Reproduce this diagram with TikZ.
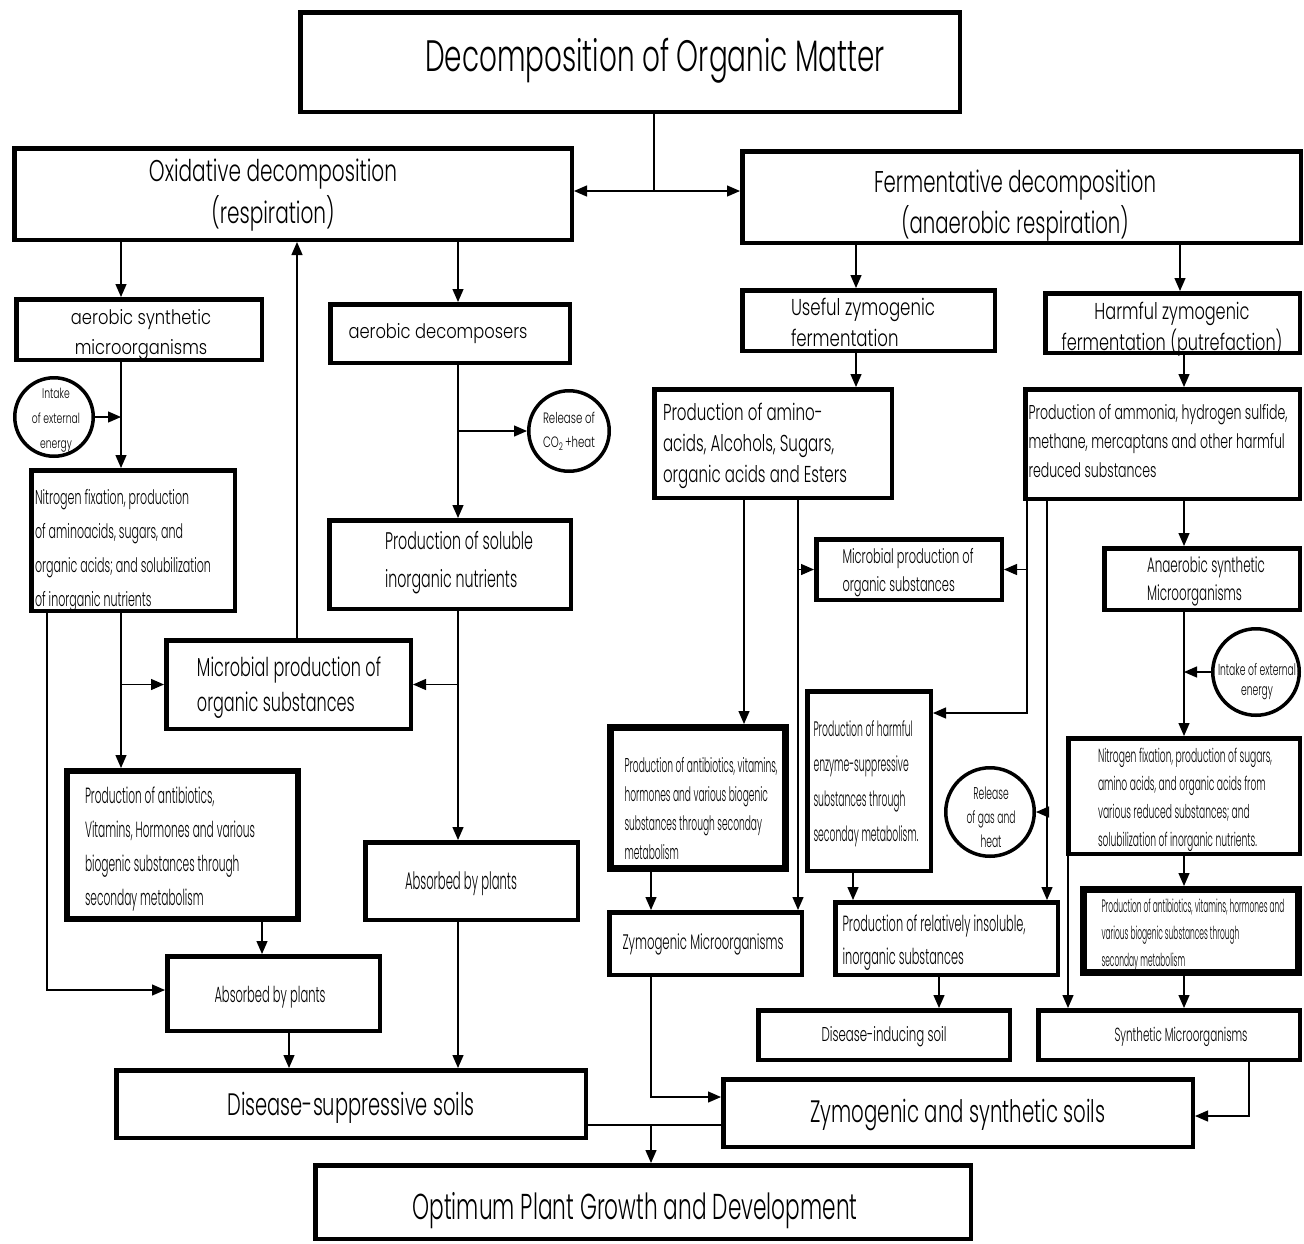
\documentclass[tikz,border=0pt]{standalone}
\usepackage{fontspec}
\setmainfont{Poppins Light}
\usepackage{graphicx}
\usetikzlibrary{arrows.meta}
\newcommand{\mytx}[5]{\fontsize{#1}{#2}\selectfont\resizebox{#3pt}{\height}{\begin{tabular}{@{}#4@{}}#5\end{tabular}}}
\begin{document}
\begin{tikzpicture}[x=1pt,y=-1pt,
  bx/.style={draw, line width=4.5pt, inner sep=0pt},
  bxt/.style={draw, line width=7pt, inner sep=0pt},
  cr/.style={draw, circle, line width=3.5pt, inner sep=0pt},
  txt/.style={inner sep=0pt},
  arr/.style={-{Triangle[length=13pt,width=11pt]}, line width=1.3pt},
  ln/.style={line width=1.3pt},
  arr2/.style={{Triangle[length=13pt,width=11pt]}-{Triangle[length=13pt,width=11pt]}, line width=1.3pt}]
\useasboundingbox (0,0) rectangle (1304,1243);
\fill[white] (0,0) rectangle (1304,1243);
% ---------- boxes ----------
\node[bx, minimum width=659.5, minimum height=99.5] (b-title) at (630,62) {};
\node[bx, minimum width=557.5, minimum height=91.5] (b-ox) at (293,194) {};
\node[bx, minimum width=558.5, minimum height=91.5] (b-fe) at (1021.5,197) {};
\node[bx, minimum width=245.5, minimum height=60.5] (b-aes) at (139,329.5) {};
\node[bx, minimum width=239.5, minimum height=58.5] (b-aed) at (450,333.5) {};
\node[bx, minimum width=203.5, minimum height=140.5] (b-nfl) at (133,540.5) {};
\node[bx, minimum width=241.5, minimum height=88.5] (b-sol) at (450,564.5) {};
\node[bx, minimum width=244.5, minimum height=88.5] (b-mpl) at (288.5,684.5) {};
\node[bx, line width=6pt, minimum width=231, minimum height=148] (b-abl) at (182.5,845) {};
\node[bx, minimum width=212.5, minimum height=74.5] (b-apl) at (273.5,993.5) {};
\node[bx, minimum width=212.5, minimum height=77.5] (b-apm) at (471.5,881) {};
\node[bx, minimum width=469.5, minimum height=67.5] (b-dss) at (351,1104) {};
\node[bx, minimum width=655.5, minimum height=73.5] (b-opt) at (643,1202) {};
\node[bx, minimum width=469.5, minimum height=67.5] (b-zss) at (958,1113) {};
\node[bx, minimum width=252.5, minimum height=60.5] (b-use) at (868.5,320.5) {};
\node[bx, minimum width=254.5, minimum height=59.5] (b-har) at (1172.5,323) {};
\node[bx, minimum width=237.5, minimum height=108.5] (b-ami) at (773,443.5) {};
\node[bx, minimum width=274.5, minimum height=109.5] (b-amm) at (1162.5,444) {};
\node[bx, minimum width=185.5, minimum height=60.5] (b-mpr) at (909,569.5) {};
\node[bx, minimum width=195.5, minimum height=61.5] (b-ana) at (1202,579) {};
\node[bx, minimum width=231.5, minimum height=115.5] (b-nfr) at (1184,796) {};
\node[bxt, minimum width=215, minimum height=83] (b-abr) at (1191,931) {};
\node[bx, minimum width=261.5, minimum height=49.5] (b-syn) at (1169,1035) {};
\node[bxt, minimum width=175, minimum height=141] (b-abm) at (698,798) {};
\node[bx, minimum width=192.5, minimum height=62.5] (b-zym) at (705.5,943.5) {};
\node[bx, minimum width=123.5, minimum height=179.5] (b-hen) at (869,781) {};
\node[bx, minimum width=222.5, minimum height=72.5] (b-ins) at (946.5,938.5) {};
\node[bx, minimum width=251.5, minimum height=49.5] (b-din) at (884,1035) {};
% ---------- circles ----------
\node[cr, minimum size=78.5] (c-intl) at (54,417) {};
\node[cr, minimum size=80.5] (c-co2) at (569,431) {};
\node[cr, minimum size=86.5] (c-intr) at (1256,672) {};
\node[cr, minimum size=88.5] (c-gas) at (990,812) {};
% ---------- texts ----------
\node[txt] (t-title) at (655,61) {\mytx{44}{50}{460}{c}{Decomposition of Organic Matter}};
\node[txt] (t-ox) at (273,194) {\mytx{30}{42}{248}{c}{Oxidative decomposition\\(respiration)}};
\node[txt] (t-fe) at (1015,205) {\mytx{30}{40}{282}{c}{Fermentative decomposition\\(anaerobic respiration)}};
\node[txt] (t-aes) at (141,333) {\mytx{20}{30}{140}{c}{aerobic synthetic\\microorganisms}};
\node[txt] (t-aed) at (438,334) {\mytx{20}{24}{179}{c}{aerobic decomposers}};
\node[txt] (t-intl) at (56,418) {\mytx{14}{25}{48}{c}{Intake\\of external\\energy}};
\node[txt] (t-co2) at (569,431) {\mytx{15}{24}{52}{c}{Release of\\CO\textsubscript{2}\,+heat}};
\node[txt] (t-nfl) at (123,549) {\mytx{20}{34}{176}{l}{Nitrogen fixation, production\\of aminoacids, sugars, and\\organic acids; and solubilization\\of inorganic nutrients}};
\node[txt] (t-sol) at (459,561) {\mytx{24}{38}{148}{l}{Production of soluble\\inorganic nutrients}};
\node[txt] (t-mpl) at (289,687) {\mytx{26}{35}{184}{l}{Microbial production of\\organic substances}};
\node[txt] (t-abl) at (170,848) {\mytx{22}{34}{170}{l}{Production of antibiotics,\\Vitamins, Hormones and various\\biogenic substances through\\seconday metabolism}};
\node[txt] (t-apl) at (270,997) {\mytx{22}{26}{111}{c}{Absorbed by plants}};
\node[txt] (t-apm) at (461,884) {\mytx{24}{28}{112}{c}{Absorbed by plants}};
\node[txt] (t-dss) at (351,1108) {\mytx{31}{36}{247}{c}{Disease-suppressive soils}};
\node[txt] (t-opt) at (635,1211) {\mytx{36}{42}{445}{c}{Optimum Plant Growth and Development}};
\node[txt] (t-zss) at (958,1115) {\mytx{31}{36}{295}{c}{Zymogenic and synthetic soils}};
\node[txt] (t-use) at (863,325) {\mytx{23}{31}{144}{l}{Useful zymogenic\\fermentation}};
\node[txt] (t-har) at (1172,329) {\mytx{23}{30}{221}{c}{Harmful zymogenic\\fermentation (putrefaction)}};
\node[txt] (t-ami) at (755,445) {\mytx{23}{31}{184}{l}{Production of amino-\\acids, Alcohols, Sugars,\\organic acids and Esters}};
\node[txt] (t-amm) at (1158,443) {\mytx{20}{29}{259}{l}{Production of ammonia, hydrogen sulfide,\\methane, mercaptans and other harmful\\reduced substances}};
\node[txt] (t-mpr) at (908,572) {\mytx{20}{28}{131}{l}{Microbial production of\\organic substances}};
\node[txt] (t-ana) at (1206,581) {\mytx{21}{28}{118}{l}{Anaerobic synthetic\\Microorganisms}};
\node[txt] (t-intr) at (1257,681) {\mytx{16}{20}{78}{c}{Intake of external\\energy}};
\node[txt] (t-nfr) at (1185,799) {\mytx{19}{28}{174}{l}{Nitrogen fixation, production of sugars,\\amino acids, and organic acids from\\various reduced substances; and\\solubilization of inorganic nutrients.}};
\node[txt] (t-abr) at (1193,934) {\mytx{18}{27}{183}{l}{Production of antibiotics, vitamins, hormones and\\various biogenic substances through\\seconday metabolism}};
\node[txt] (t-syn) at (1181,1037) {\mytx{19}{22}{133}{c}{Synthetic Microorganisms}};
\node[txt] (t-abm) at (701,810) {\mytx{20}{29}{153}{l}{Production of antibiotics, vitamins,\\hormones and various biogenic\\substances through seconday\\metabolism}};
\node[txt] (t-zym) at (703,945) {\mytx{21}{24}{161}{c}{Zymogenic Microorganisms}};
\node[txt] (t-hen) at (866,782) {\mytx{21}{35}{105}{l}{Production of harmful\\enzyme-suppressive\\substances through\\seconday metabolism.}};
\node[txt] (t-gas) at (991,819) {\mytx{17}{24}{49}{c}{Release\\of gas and\\heat}};
\node[txt] (t-ins) at (934,941) {\mytx{22}{33}{183}{l}{Production of relatively insoluble,\\inorganic substances}};
\node[txt] (t-din) at (884,1037) {\mytx{20}{24}{125}{c}{Disease-inducing soil}};
% ---------- x levels / junctions ----------
\coordinate (x47) at (47,0);
\coordinate (x121) at (121,0);
\coordinate (x262) at (262,0);
\coordinate (x289) at (289,0);
\coordinate (x297) at (297,0);
\coordinate (x458) at (458,0);
\coordinate (x651) at (651,0);
\coordinate (x744) at (744,0);
\coordinate (x798) at (798,0);
\coordinate (x853) at (853,0);
\coordinate (x856) at (856,0);
\coordinate (x939) at (939,0);
\coordinate (x1027) at (1027,0);
\coordinate (x1047) at (1047,0);
\coordinate (x1068) at (1068,0);
\coordinate (x1180) at (1180,0);
\coordinate (x1184) at (1184,0);
\coordinate (x1249) at (1249,0);
\coordinate (j1) at (654,191);
\coordinate (j2) at (651,1125);
\coordinate (j3) at (0,713);
\coordinate (j4) at (0,1097);
\coordinate (j5) at (0,1116);
\coordinate (j6) at (0,990);
% ---------- connectors ----------
\draw[ln] (b-title.south -| j1) -- (j1);
\draw[arr2] (b-ox.east |- j1) -- (b-fe.west |- j1);
\draw[arr] (b-ox.south -| x121) -- (b-aes.north -| x121);
\draw[arr] (b-mpl.north -| x297) -- (b-ox.south -| x297);
\draw[arr] (b-ox.south -| x458) -- (b-aed.north -| x458);
\draw[arr] (b-aes.south -| x121) -- (b-nfl.north -| x121);
\draw[arr] (c-intl.east) -- (c-intl.east -| x121);
\draw[arr] (b-aed.south -| x458) -- (b-sol.north -| x458);
\draw[arr] (c-co2.west -| x458) -- (c-co2.west);
\draw[arr] (b-nfl.south -| x121) -- (b-abl.north -| x121);
\draw[arr] (b-mpl.west -| x121) -- (b-mpl.west);
\draw[arr] (b-sol.south -| x458) -- (b-apm.north -| x458);
\draw[arr] (b-mpl.east -| x458) -- (b-mpl.east);
\draw[arr] (b-nfl.south -| x47) |- (b-apl.west |- j6);
\draw[arr] (b-abl.south -| x262) -- (b-apl.north -| x262);
\draw[arr] (b-apl.south -| x289) -- (b-dss.north -| x289);
\draw[arr] (b-apm.south -| x458) -- (b-dss.north -| x458);
\draw[ln] (b-dss.east |- j2) -- (b-zss.west |- j2);
\draw[arr] (j2) -- (b-opt.north -| j2);
\draw[arr] (b-fe.south -| x856) -- (b-use.north -| x856);
\draw[arr] (b-fe.south -| x1180) -- (b-har.north -| x1180);
\draw[arr] (b-use.south -| x856) -- (b-ami.north -| x856);
\draw[arr] (b-har.south -| x1184) -- (b-amm.north -| x1184);
\draw[arr] (b-ami.south -| x744) -- (b-abm.north -| x744);
\draw[arr] (b-ami.south -| x798) -- (b-zym.north -| x798);
\draw[arr] (b-mpr.west -| x798) -- (b-mpr.west);
\draw[arr] (b-amm.south -| x1027) |- (b-hen.east |- j3);
\draw[arr] (b-mpr.east -| x1027) -- (b-mpr.east);
\draw[arr] (b-amm.south -| x1047) -- (b-ins.north -| x1047);
\draw[arr] (c-gas.east -| x1047) -- (c-gas.east);
\draw[arr] (b-amm.south -| x1184) -- (b-ana.north -| x1184);
\draw[arr] (b-ana.south -| x1184) -- (b-nfr.north -| x1184);
\draw[arr] (c-intr.west) -- (c-intr.west -| x1184);
\draw[arr] (b-nfr.south -| x1184) -- (b-abr.north -| x1184);
\draw[arr] (b-nfr.south -| x1068) -- (b-syn.north -| x1068);
\draw[arr] (b-abr.south -| x1184) -- (b-syn.north -| x1184);
\draw[arr] (b-ins.south -| x939) -- (b-din.north -| x939);
\draw[arr] (b-hen.south -| x853) -- (b-ins.north -| x853);
\draw[arr] (b-abm.south -| x651) -- (b-zym.north -| x651);
\draw[arr] (b-zym.south -| x651) |- (b-zss.west |- j4);
\draw[arr] (b-syn.south -| x1249) |- (b-zss.east |- j5);
\end{tikzpicture}
\end{document}
